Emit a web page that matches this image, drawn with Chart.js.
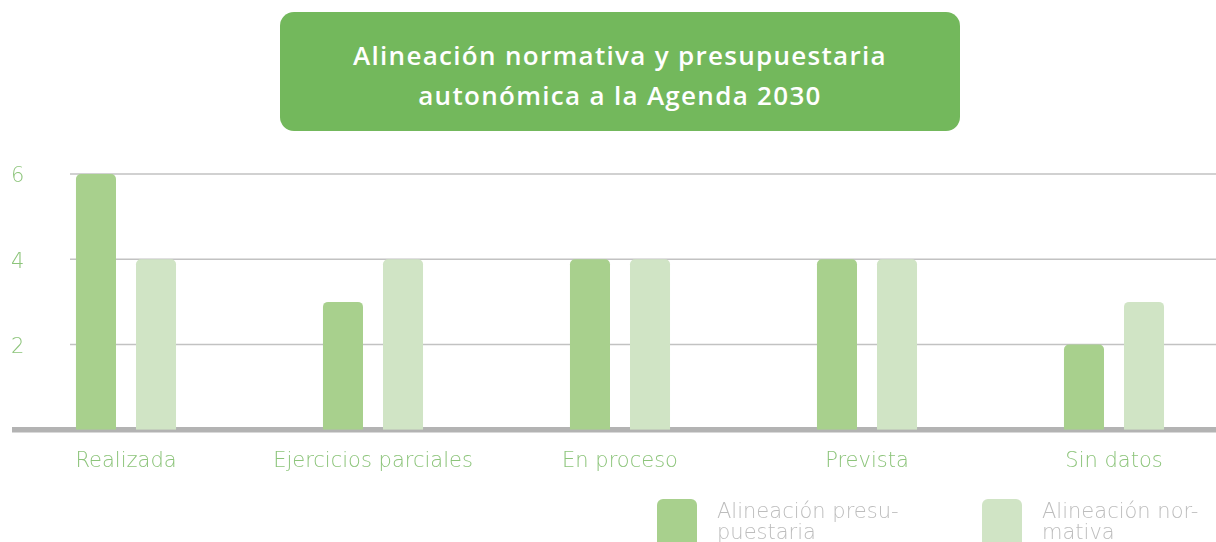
<!DOCTYPE html>
<html>
<head>
<meta charset="utf-8">
<script src="https://cdn.jsdelivr.net/npm/chart.js"></script>
<style>
  html, body { margin: 0; padding: 0; background: #fff; overflow: hidden; width: 1216px; height: 542px; }
  #wrap { position: relative; width: 1216px; height: 542px; }
  #title {
    position: absolute; left: 280px; top: 12px; width: 680px; height: 119px;
    background: #73b85c; border-radius: 14px; color: #fff;
    font-family: "Open Sans", sans-serif; font-weight: 600; font-size: 26px; letter-spacing: 1.3px;
    line-height: 40px; text-align: center; box-sizing: border-box; padding-top: 23px;
  }
  #chartBox { position: absolute; left: 0; top: 0; width: 1240px; height: 542px; }
  #legend { position: absolute; top: 499px; left: 0; width: 1216px; height: 60px; }
  .item { position: absolute; top: 0; }
  .sw { position: absolute; left: 0; top: 0; width: 40px; height: 60px; border-radius: 6px; }
  .lbl { position: absolute; left: 60px; top: 2px; width: 230px; color: #bdbdbd;
    font-family: "DejaVu Sans", sans-serif; font-weight: 200; font-size: 21px; line-height: 21px; }
</style>
</head>
<body>
<div id="wrap">
  <div id="chartBox"><canvas id="chart" width="1240" height="542"></canvas></div>
  <div id="title">Alineación normativa y presupuestaria<br>autonómica a la Agenda 2030</div>
  <div id="legend"></div>
</div>
<script>
// datos
const categories = ['Realizada', 'Ejercicios parciales', 'En proceso', 'Prevista', 'Sin datos'];
const presupuestaria = [6, 3, 4, 4, 2];
const normativa = [4, 4, 4, 4, 3];
const yTicks = [2, 4, 6];
const seriesLabels = ['Alineación presu-\npuestaria', 'Alineación nor-\nmativa'];
const colors = ['#a8d08d', '#d0e4c5'];

const labelFont = '"DejaVu Sans", sans-serif';

// líneas de la cuadrícula y eje base
const gridPlugin = {
    id: 'gridPlugin',
    beforeDatasetsDraw(chart) {
        const ctx = chart.ctx;
        const y = chart.scales.y;
        ctx.save();
        ctx.strokeStyle = '#c2c2c2';
        ctx.lineWidth = 1.5;
        yTicks.forEach(v => {
            const py = y.getPixelForValue(v);
            ctx.beginPath();
            ctx.moveTo(70, py);
            ctx.lineTo(1216, py);
            ctx.stroke();
        });
        // eje base
        const p0 = y.getPixelForValue(0);
        ctx.strokeStyle = '#b3b3b3';
        ctx.lineWidth = 5.5;
        ctx.beginPath();
        ctx.moveTo(12, p0);
        ctx.lineTo(1216, p0);
        ctx.stroke();
        // etiquetas del eje y
        ctx.fillStyle = '#8cc47a';
        ctx.font = '200 21px ' + labelFont;
        ctx.textAlign = 'left';
        ctx.textBaseline = 'middle';
        yTicks.forEach(v => {
            ctx.fillText(String(v), 11, y.getPixelForValue(v) + 3);
        });
        ctx.restore();
    }
};

const ctx = document.getElementById('chart');
new Chart(ctx.getContext('2d'), {
    type: 'bar',
    data: {
        labels: categories,
        datasets: [{
            label: seriesLabels[0],
            data: presupuestaria,
            backgroundColor: colors[0],
            borderRadius: { topLeft: 5, topRight: 5 },
            borderSkipped: 'start',
            barPercentage: 0.667,
            categoryPercentage: 0.486
        }, {
            label: seriesLabels[1],
            data: normativa,
            backgroundColor: colors[1],
            borderRadius: { topLeft: 5, topRight: 5 },
            borderSkipped: 'start',
            barPercentage: 0.667,
            categoryPercentage: 0.486
        }]
    },
    options: {
        responsive: false,
        animation: false,
        layout: { padding: { left: 2.5, right: 2.5, top: 174, bottom: 49 } },
        plugins: { legend: { display: false }, tooltip: { enabled: false } },
        scales: {
            x: {
                grid: { display: false, drawTicks: false },
                border: { display: false },
                ticks: {
                    color: '#8cc47a',
                    padding: 19,
                    font: { family: labelFont, size: 21, weight: '200' }
                }
            },
            y: { display: false, min: 0, max: 6 }
        }
    },
    plugins: [gridPlugin]
});

// leyenda
const legend = document.getElementById('legend');
const legendX = [657, 982];
seriesLabels.forEach((t, i) => {
    const item = document.createElement('div');
    item.className = 'item';
    item.style.left = legendX[i] + 'px';
    item.innerHTML = '<div class="sw" style="background:' + colors[i] + '"></div>' +
        '<div class="lbl">' + t.replace('\n', '<br>') + '</div>';
    legend.appendChild(item);
});
</script>
</body>
</html>
